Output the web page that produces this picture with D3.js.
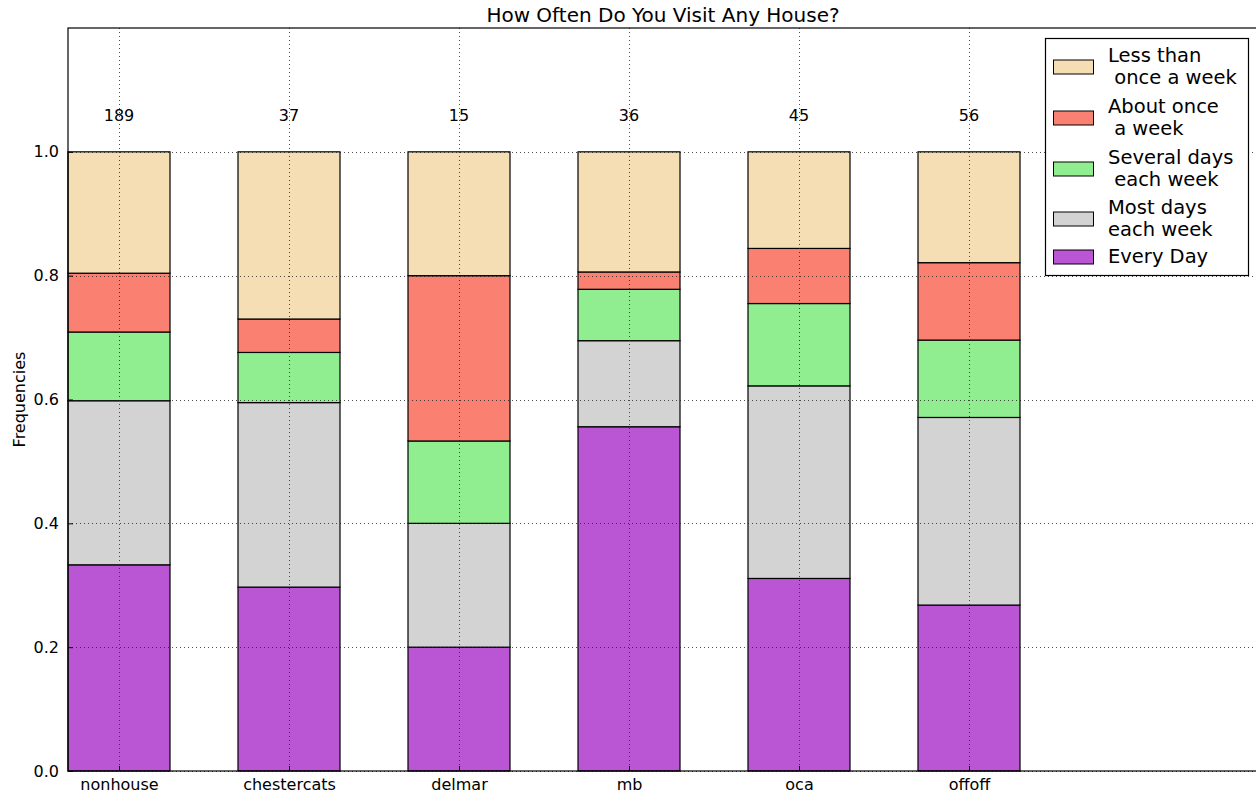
<!DOCTYPE html>
<html><head><meta charset="utf-8">
<script src="https://cdn.jsdelivr.net/npm/d3@7"></script>
<style>body{margin:0;background:#fff}svg{display:block;font-family:"DejaVu Sans",sans-serif}</style>
</head><body><svg id="c" width="1256" height="795"></svg>
<script>
const categories = ["nonhouse","chestercats","delmar","mb","oca","offoff"];
const totals = [189,37,15,36,45,56];
const seriesNames = ["Every Day","Most days\neach week","Several days\n each week","About once\n a week","Less than\n once a week"];
const everyDay    = [0.333,0.297,0.200,0.556,0.311,0.268];
const mostDays    = [0.265,0.298,0.200,0.139,0.311,0.303];
const severalDays = [0.111,0.081,0.133,0.083,0.133,0.125];
const aboutOnce   = [0.095,0.054,0.267,0.028,0.089,0.125];
const lessThan    = [0.196,0.270,0.200,0.194,0.156,0.179];
const colors = ["#BA55D3","#D3D3D3","#90EE90","#FA8072","#F5DEB3"];
const yTicks = [0,0.2,0.4,0.6,0.8,1.0];

const series = [everyDay,mostDays,severalDays,aboutOnce,lessThan];
const svg = d3.select("#c");
const L=68,R=1258,T=28,B=771;
const x = d3.scaleLinear().domain([-0.3,6.7]).range([L,R]);
const y = d3.scaleLinear().domain([0,1.2]).range([B,T]);
const bw = 0.6;

// bars
const g = svg.append("g");
categories.forEach((c,i)=>{
  let base=0;
  series.forEach((s,k)=>{
    const v=s[i];
    g.append("rect").attr("x",x(i-bw/2)).attr("width",x(bw)-x(0))
      .attr("y",y(base+v)).attr("height",y(base)-y(base+v))
      .attr("fill",colors[k]).attr("stroke","#000").attr("stroke-width",1.2);
    base+=v;
  });
  svg.append("text").attr("x",x(i)).attr("y",y(1.06)+6).attr("text-anchor","middle")
    .attr("font-size",16).text(totals[i]);
});

// grid
const grid = svg.append("g").attr("stroke","#222").attr("stroke-width",1).attr("stroke-dasharray","1,3").attr("opacity",0.8);
yTicks.forEach(t=>grid.append("line").attr("x1",L).attr("x2",R).attr("y1",Math.round(y(t))+0.5).attr("y2",Math.round(y(t))+0.5));
categories.forEach((c,i)=>grid.append("line").attr("x1",Math.round(x(i))+0.5).attr("x2",Math.round(x(i))+0.5).attr("y1",T).attr("y2",B));

// axes frame
svg.append("rect").attr("x",L).attr("y",T).attr("width",R-L).attr("height",B-T).attr("fill","none").attr("stroke","#000").attr("stroke-width",1.2);

// ticks
const yAxis = d3.axisLeft(y).tickValues(yTicks).tickFormat(d3.format(".1f")).tickSizeInner(-5).tickSizeOuter(0).tickPadding(9);
const ya = svg.append("g").attr("transform",`translate(${L},0)`).call(yAxis);
ya.select(".domain").remove();
ya.selectAll("text").attr("font-size",16).attr("font-family","DejaVu Sans").attr("fill","#000");
const xAxis = d3.axisBottom(x).tickValues(d3.range(categories.length)).tickFormat(i=>categories[i]).tickSizeInner(-5).tickSizeOuter(0).tickPadding(8);
const xa = svg.append("g").attr("transform",`translate(0,${B})`).call(xAxis);
xa.select(".domain").remove();
xa.selectAll("text").attr("font-size",16).attr("font-family","DejaVu Sans").attr("fill","#000");

// title & label
svg.append("text").attr("x",(L+R)/2).attr("y",22).attr("text-anchor","middle").attr("font-size",20).text("How Often Do You Visit Any House?");
svg.append("text").attr("transform",`translate(25,${(T+B)/2}) rotate(-90)`).attr("text-anchor","middle").attr("font-size",16).text("Frequencies");

// legend
const lg = svg.append("g");
lg.append("rect").attr("x",1045.5).attr("y",38.5).attr("width",203).attr("height",237).attr("fill","#fff").attr("stroke","#000").attr("stroke-width",1.2);
const legendOrder=[4,3,2,1,0];
const legendY=[67,118,169,219,257];
legendOrder.forEach((k,j)=>{
  const cy = legendY[j];
  lg.append("rect").attr("x",1053.5).attr("y",cy-7).attr("width",40).attr("height",14).attr("fill",colors[k]).attr("stroke","#000").attr("stroke-width",1);
  const lines = seriesNames[k].split("\n");
  const t = lg.append("text").attr("font-size",19.5).attr("xml:space","preserve");
  if(lines.length===1){
    t.append("tspan").attr("x",1108).attr("y",cy+6).text(lines[0]);
  } else {
    lines.forEach((ln,m)=>t.append("tspan").attr("x",1108).attr("y",cy-5+m*21.5).text(ln));
  }
});
</script></body></html>
